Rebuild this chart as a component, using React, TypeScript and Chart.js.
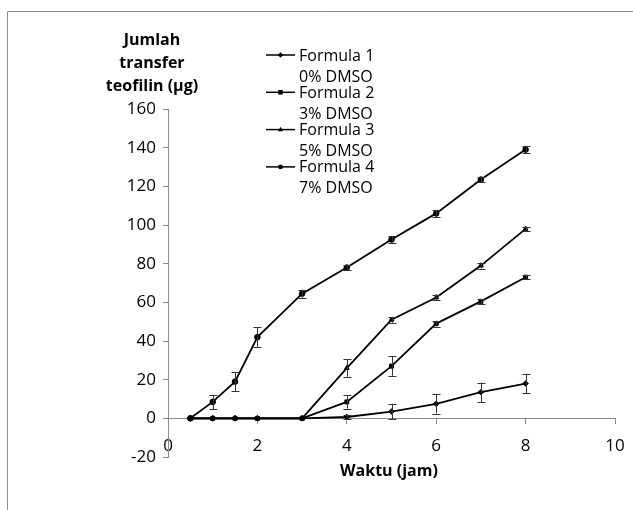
import React, { useEffect, useRef } from "react";
import { Chart, registerables } from "chart.js";

Chart.register(...registerables);

// ---- data ----
const hours = [0.5, 1, 1.5, 2, 3, 4, 5, 6, 7, 8];

const formula1 = [0, 0, 0, 0, 0, 0.7, 3.5, 7.5, 13.5, 18];
const formula1Err = [0, 0, 0, 0, 0, 0.8, 4, 5, 5, 5];

const formula2 = [0, 0, 0, 0, 0, 8.5, 27, 49, 60.5, 73];
const formula2Err = [0, 0, 0, 0, 0, 3.5, 5, 1.5, 1.2, 1];

const formula3 = [0, 0, 0, 0, 0, 26, 51, 62.5, 79, 98];
const formula3Err = [0, 0, 0, 0, 0, 4.5, 1.5, 1.5, 1.5, 1];

const formula4 = [0, 8.5, 19, 42, 64.5, 78, 92.5, 106, 123.5, 139];
const formula4Err = [0, 3.7, 5, 5, 2, 1.2, 1.8, 1.8, 1.5, 1.8];

const seriesNames = ["Formula 1", "Formula 2", "Formula 3", "Formula 4"];
const seriesSub = ["0% DMSO", "3% DMSO", "5% DMSO", "7% DMSO"];
const seriesValues = [formula1, formula2, formula3, formula4];
const seriesErrors = [formula1Err, formula2Err, formula3Err, formula4Err];
const pointStyles = ["rectRot", "rect", "triangle", "circle"];

const yTitleLines = ["Jumlah", "transfer", "teofilin (µg)"];
const xTitle = "Waktu (jam)";

const FONT = "'Open Sans', 'Noto Sans', sans-serif";

function drawMarker(ctx: CanvasRenderingContext2D, style: string, x: number, y: number, r: number) {
  ctx.beginPath();
  if (style === "rectRot") {
    ctx.moveTo(x, y - r);
    ctx.lineTo(x + r, y);
    ctx.lineTo(x, y + r);
    ctx.lineTo(x - r, y);
    ctx.closePath();
  } else if (style === "rect") {
    const s = r * 0.8;
    ctx.rect(x - s, y - s, 2 * s, 2 * s);
  } else if (style === "triangle") {
    ctx.moveTo(x, y - r);
    ctx.lineTo(x + r * 0.9, y + r * 0.6);
    ctx.lineTo(x - r * 0.9, y + r * 0.6);
    ctx.closePath();
  } else {
    ctx.arc(x, y, r * 0.85, 0, Math.PI * 2);
  }
  ctx.fill();
}

export default function App() {
  const ref = useRef<HTMLCanvasElement | null>(null);

  useEffect(() => {
    if (!ref.current) return;

    const decoPlugin = {
      id: "deco",
      beforeDraw(chart: any) {
        const ctx = chart.ctx;
        ctx.save();
        ctx.fillStyle = "#ffffff";
        ctx.fillRect(0, 0, chart.width, chart.height);
        ctx.strokeStyle = "#8c8c8c";
        ctx.lineWidth = 1;
        ctx.beginPath();
        ctx.moveTo(7.5, chart.height + 5);
        ctx.lineTo(7.5, 11.5);
        ctx.lineTo(chart.width + 5, 11.5);
        ctx.stroke();
        ctx.restore();
      },
      afterDatasetsDraw(chart: any) {
        const ctx = chart.ctx;
        const xs = chart.scales.x;
        const ys = chart.scales.y;
        ctx.save();
        ctx.strokeStyle = "#333333";
        ctx.lineWidth = 1;
        chart.data.datasets.forEach((ds: any, i: number) => {
          const errs = seriesErrors[i];
          ds.data.forEach((p: any, j: number) => {
            const e = errs[j];
            if (!e) return;
            const x = Math.round(xs.getPixelForValue(p.x)) + 0.5;
            const yTop = ys.getPixelForValue(p.y + e);
            const yBot = ys.getPixelForValue(p.y - e);
            ctx.beginPath();
            ctx.moveTo(x, yTop);
            ctx.lineTo(x, yBot);
            ctx.moveTo(x - 4, Math.round(yTop) + 0.5);
            ctx.lineTo(x + 4, Math.round(yTop) + 0.5);
            ctx.moveTo(x - 4, Math.round(yBot) + 0.5);
            ctx.lineTo(x + 4, Math.round(yBot) + 0.5);
            ctx.stroke();
          });
        });
        ctx.restore();
      },
      afterDraw(chart: any) {
        const ctx = chart.ctx;
        ctx.save();
        ctx.fillStyle = "#000000";
        ctx.textAlign = "center";
        ctx.textBaseline = "middle";
        ctx.font = `bold 16px ${FONT}`;
        yTitleLines.forEach((t, i) => ctx.fillText(t, 152, 40 + i * 23));
        ctx.fillText(xTitle, 389, 471);

        // legend
        ctx.textAlign = "left";
        ctx.font = `16px ${FONT}`;
        chart.data.datasets.forEach((_ds: any, i: number) => {
          const y = 55 + i * 37.3;
          ctx.strokeStyle = "#000";
          ctx.lineWidth = 1.5;
          ctx.beginPath();
          ctx.moveTo(266, y);
          ctx.lineTo(295, y);
          ctx.stroke();
          ctx.fillStyle = "#000";
          drawMarker(ctx, pointStyles[i], 280.5, y, 2.8);
          ctx.fillText(seriesNames[i], 299, y + 1);
          ctx.fillText(seriesSub[i], 299, y + 22);
        });
        ctx.restore();
      },
    };

    const chart = new Chart(ref.current, {
      type: "line",
      data: {
        datasets: seriesValues.map((vals, i) => ({
          label: `${seriesNames[i]} ${seriesSub[i]}`,
          data: hours.map((h, j) => ({ x: h, y: vals[j] })),
          borderColor: "#000000",
          backgroundColor: "#000000",
          borderWidth: 1.8,
          pointStyle: pointStyles[i] as any,
          pointRadius: 2.8,
          pointBorderWidth: 1,
          tension: 0,
        })),
      },
      options: {
        animation: false,
        responsive: false,
        maintainAspectRatio: false,
        layout: { padding: { left: 123, top: 109, bottom: 53, right: 18 } },
        plugins: {
          legend: { display: false },
          title: { display: false },
          tooltip: { enabled: false },
        },
        scales: {
          x: {
            type: "linear",
            min: 0,
            max: 10,
            position: { y: 0 } as any,
            afterFit: (s: any) => {
              s.paddingRight = 0;
              s.paddingLeft = 0;
            },
            ticks: {
              stepSize: 2,
              padding: 13,
              color: "#000",
              font: { family: FONT, size: 17 },
            },
            grid: {
              drawOnChartArea: false,
              drawTicks: true,
              tickLength: 5,
              color: "#8c8c8c",
            },
            border: { display: true, color: "#8c8c8c", width: 1 },
          },
          y: {
            type: "linear",
            min: -20,
            max: 160,
            position: "left",
            afterFit: (s: any) => {
              s.width = 45;
              s.paddingTop = 0;
              s.paddingBottom = 0;
            },
            ticks: {
              stepSize: 20,
              padding: 7,
              color: "#000",
              font: { family: FONT, size: 17 },
            },
            grid: {
              drawOnChartArea: false,
              drawTicks: true,
              tickLength: 5,
              color: "#8c8c8c",
            },
            border: { display: true, color: "#8c8c8c", width: 1 },
          },
        },
      },
      plugins: [decoPlugin],
    });

    return () => chart.destroy();
  }, []);

  return (
    <div style={{ position: "fixed", left: 0, top: 0, width: 633, height: 510, background: "#fff" }}>
      <canvas ref={ref} width={633} height={510} style={{ display: "block" }} />
    </div>
  );
}
